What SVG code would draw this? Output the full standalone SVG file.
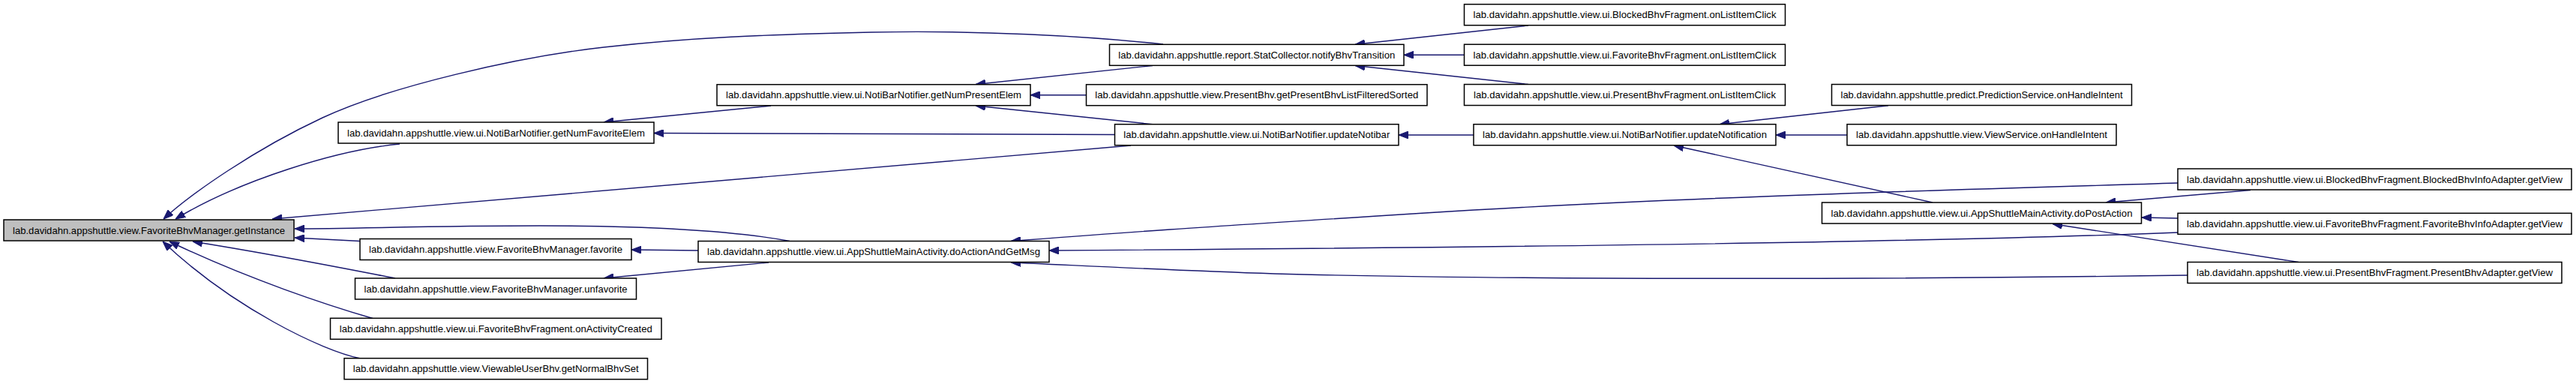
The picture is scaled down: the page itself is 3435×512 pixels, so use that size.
<svg xmlns="http://www.w3.org/2000/svg" width="3435" height="512" viewBox="0 0 3435 512">
<style>
.n rect{fill:#ffffff;stroke:#000000;stroke-width:1.5}
.n.main rect{fill:#bfbfbf}
.n text{font-family:"Liberation Sans",Arial,sans-serif;font-size:13px;fill:#000000;text-anchor:middle}
.e path{fill:none;stroke:#191970;stroke-width:1.4;marker-end:url(#ah)}
</style>
<defs>
<marker id="ah" markerUnits="userSpaceOnUse" viewBox="0 0 13 10" refX="13" refY="5" markerWidth="13" markerHeight="10" orient="auto">
<path d="M0,0 L13,5 L0,10 Z" fill="#191970" stroke="#191970" stroke-width="1"/>
</marker>
</defs>
<rect x="0" y="0" width="3435" height="512" fill="#ffffff"/>
<g id="connectors" class="e">
<path d="M1551,59 C1450,48 1300,40 1162,43 C1024,46 920,50 805,63 C690,76 520,115 430,157 C340,199 255,258 218,292"/>
<path d="M533,192 C450,200 320,240 234,292"/>
<path d="M1508,194 L363,292"/>
<path d="M1053,321.5 C980,308 870,301 720,301 C580,301 470,305 393,305"/>
<path d="M480,321.5 L393,317"/>
<path d="M527,371 C470,360 370,340 257,322"/>
<path d="M497,424.5 C440,408 330,372 226,322"/>
<path d="M481,478 C430,468 310,410 217,322"/>
<path d="M1028,141 L805,163"/>
<path d="M1486.5,179.5 L872,177.5"/>
<path d="M1537,87.5 L1301,112.5"/>
<path d="M1448.5,126.7 L1374,126.7"/>
<path d="M1537,165.7 L1301,141"/>
<path d="M931,334 L842,333"/>
<path d="M1025,350 L805,371"/>
<path d="M2038,34 L1807,59.3"/>
<path d="M1952.5,73.3 L1872,73.3"/>
<path d="M2038,112.5 L1807,87.5"/>
<path d="M1965,180 L1865,180"/>
<path d="M2518,140.7 L2293,165.7"/>
<path d="M2463,180 L2368,180"/>
<path d="M2577,270 L2232,194"/>
<path d="M2904,244 C2650,252 2250,262 1900,284 S1500,310 1348,321.5"/>
<path d="M2904,310 C2600,322 2000,330 1399,334"/>
<path d="M2917,367 C2500,373 2000,373 1700,365 C1550,360 1420,353 1348,350"/>
<path d="M3001,253.5 L2808,270"/>
<path d="M2904,291 L2856,290"/>
<path d="M3065,349.5 L2737,298.5"/>
</g>
<g id="n0" class="n main"><rect x="5" y="293" width="387" height="28"/><text x="198.5" y="311.5" textLength="363" lengthAdjust="spacingAndGlyphs">lab.davidahn.appshuttle.view.FavoriteBhvManager.getInstance</text></g>
<g id="n1" class="n"><rect x="451" y="163" width="421" height="28"/><text x="661.5" y="181.5" textLength="397" lengthAdjust="spacingAndGlyphs">lab.davidahn.appshuttle.view.ui.NotiBarNotifier.getNumFavoriteElem</text></g>
<g id="n2" class="n"><rect x="480" y="318.5" width="362" height="28"/><text x="661" y="337" textLength="338" lengthAdjust="spacingAndGlyphs">lab.davidahn.appshuttle.view.FavoriteBhvManager.favorite</text></g>
<g id="n3" class="n"><rect x="473.5" y="371" width="375" height="28"/><text x="661" y="389.5" textLength="351" lengthAdjust="spacingAndGlyphs">lab.davidahn.appshuttle.view.FavoriteBhvManager.unfavorite</text></g>
<g id="n4" class="n"><rect x="440.5" y="424.3" width="441.5" height="28"/><text x="661.25" y="442.8" textLength="417" lengthAdjust="spacingAndGlyphs">lab.davidahn.appshuttle.view.ui.FavoriteBhvFragment.onActivityCreated</text></g>
<g id="n5" class="n"><rect x="459" y="477.7" width="404.5" height="28"/><text x="661.25" y="496.2" textLength="381" lengthAdjust="spacingAndGlyphs">lab.davidahn.appshuttle.view.ViewableUserBhv.getNormalBhvSet</text></g>
<g id="n6" class="n"><rect x="956" y="112.7" width="418" height="28"/><text x="1165" y="131.2" textLength="394" lengthAdjust="spacingAndGlyphs">lab.davidahn.appshuttle.view.ui.NotiBarNotifier.getNumPresentElem</text></g>
<g id="n7" class="n"><rect x="931" y="321.5" width="468" height="28"/><text x="1165" y="340" textLength="444" lengthAdjust="spacingAndGlyphs">lab.davidahn.appshuttle.view.ui.AppShuttleMainActivity.doActionAndGetMsg</text></g>
<g id="n8" class="n"><rect x="1479.5" y="59.3" width="392.5" height="28"/><text x="1675.75" y="77.8" textLength="369" lengthAdjust="spacingAndGlyphs">lab.davidahn.appshuttle.report.StatCollector.notifyBhvTransition</text></g>
<g id="n9" class="n"><rect x="1448.5" y="112.7" width="454.5" height="28"/><text x="1675.75" y="131.2" textLength="431" lengthAdjust="spacingAndGlyphs">lab.davidahn.appshuttle.view.PresentBhv.getPresentBhvListFilteredSorted</text></g>
<g id="n10" class="n"><rect x="1486.5" y="165.7" width="378.5" height="28"/><text x="1675.75" y="184.2" textLength="355" lengthAdjust="spacingAndGlyphs">lab.davidahn.appshuttle.view.ui.NotiBarNotifier.updateNotibar</text></g>
<g id="n11" class="n"><rect x="1952.5" y="5.7" width="428" height="28"/><text x="2166.5" y="24.2" textLength="404" lengthAdjust="spacingAndGlyphs">lab.davidahn.appshuttle.view.ui.BlockedBhvFragment.onListItemClick</text></g>
<g id="n12" class="n"><rect x="1952.5" y="59.2" width="428" height="28"/><text x="2166.5" y="77.7" textLength="404" lengthAdjust="spacingAndGlyphs">lab.davidahn.appshuttle.view.ui.FavoriteBhvFragment.onListItemClick</text></g>
<g id="n13" class="n"><rect x="1952.5" y="112.5" width="428" height="28"/><text x="2166.5" y="131" textLength="403" lengthAdjust="spacingAndGlyphs">lab.davidahn.appshuttle.view.ui.PresentBhvFragment.onListItemClick</text></g>
<g id="n14" class="n"><rect x="1965" y="165.7" width="403" height="28"/><text x="2166.5" y="184.2" textLength="379" lengthAdjust="spacingAndGlyphs">lab.davidahn.appshuttle.view.ui.NotiBarNotifier.updateNotification</text></g>
<g id="n15" class="n"><rect x="2442.5" y="112.5" width="400" height="28"/><text x="2642.5" y="131" textLength="376" lengthAdjust="spacingAndGlyphs">lab.davidahn.appshuttle.predict.PredictionService.onHandleIntent</text></g>
<g id="n16" class="n"><rect x="2463" y="165.7" width="359" height="28"/><text x="2642.5" y="184.2" textLength="335" lengthAdjust="spacingAndGlyphs">lab.davidahn.appshuttle.view.ViewService.onHandleIntent</text></g>
<g id="n17" class="n"><rect x="2429.5" y="270" width="426" height="28"/><text x="2642.5" y="288.5" textLength="402" lengthAdjust="spacingAndGlyphs">lab.davidahn.appshuttle.view.ui.AppShuttleMainActivity.doPostAction</text></g>
<g id="n18" class="n"><rect x="2904" y="225" width="525" height="28"/><text x="3166.5" y="243.5" textLength="501" lengthAdjust="spacingAndGlyphs">lab.davidahn.appshuttle.view.ui.BlockedBhvFragment.BlockedBhvInfoAdapter.getView</text></g>
<g id="n19" class="n"><rect x="2904" y="284.3" width="525" height="28"/><text x="3166.5" y="302.8" textLength="501" lengthAdjust="spacingAndGlyphs">lab.davidahn.appshuttle.view.ui.FavoriteBhvFragment.FavoriteBhvInfoAdapter.getView</text></g>
<g id="n20" class="n"><rect x="2917" y="349.5" width="499" height="28"/><text x="3166.5" y="368" textLength="475" lengthAdjust="spacingAndGlyphs">lab.davidahn.appshuttle.view.ui.PresentBhvFragment.PresentBhvAdapter.getView</text></g>
</svg>
